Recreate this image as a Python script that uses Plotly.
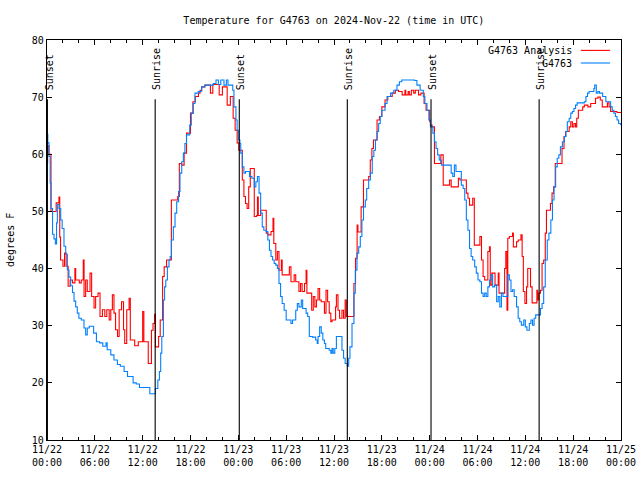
import pandas as pd
import plotly.graph_objects as go

# ---- data (hours after 2024-11-22 00:00 UTC, degrees F) ----
obs_hours = [0.0,0.1,0.25,0.4,0.5,0.7,0.88,1.05,1.2,1.3,1.5,1.72,1.9,2.13,2.35,2.55,2.75,2.97,3.2,3.39,3.6,3.8,4.0,4.3,4.64,4.85,5.05,5.3,5.6,5.85,6.2,6.6,7.0,7.4,7.55,8.0,8.4,8.83,9.2,9.67,10.1,10.8,11.2,11.6,12.9,13.6,13.9,14.1,14.26,14.4,14.6,14.75,14.9,15.1,15.3,15.45,15.6,15.85,16.06,16.27,16.5,16.68,16.9,17.1,17.3,17.5,17.9,18.1,18.35,18.56,18.98,19.4,19.8,20.87,21.2,21.5,21.8,22.2,22.5,22.7,23.3,23.45,23.7,23.85,24.0,24.2,24.3,24.5,24.7,24.9,25.4,25.7,26.0,26.2,26.4,26.6,26.8,27.0,27.2,27.5,27.7,27.9,28.1,28.3,28.5,28.7,28.9,29.1,29.3,29.5,29.75,30.0,30.6,30.8,31.2,31.4,31.6,31.9,32.07,32.5,32.7,32.9,33.3,33.7,33.9,34.0,34.2,34.4,34.6,34.8,34.96,35.4,35.6,35.75,35.9,36.1,36.3,36.8,37.0,37.2,37.4,37.67,37.84,38.0,38.26,38.5,38.67,38.88,39.1,39.3,39.5,39.7,39.93,40.1,40.35,40.56,40.8,41.0,41.2,41.4,41.6,41.8,42.0,42.4,42.65,43.1,43.5,43.9,44.2,44.5,46.1,46.4,46.8,47.2,47.4,47.66,47.9,48.1,48.4,48.6,48.8,49.0,49.2,49.5,50.7,50.9,51.1,51.3,51.97,52.2,52.4,52.6,52.8,53.0,53.2,53.4,53.65,53.85,54.06,54.3,54.5,54.7,54.9,55.1,55.3,55.5,55.7,55.9,56.15,56.4,56.6,56.8,57.0,57.2,57.8,58.0,58.2,58.4,58.6,58.9,59.1,59.3,59.5,59.8,60.0,60.2,60.5,60.7,60.9,61.1,61.3,61.9,62.1,62.3,62.5,62.75,62.96,63.2,63.4,63.6,63.8,64.0,64.2,64.4,64.65,64.9,65.1,65.27,65.5,65.7,65.9,66.1,66.3,66.5,67.4,67.6,67.8,68.0,68.6,68.7,68.9,69.1,69.3,69.7,70.1,70.7,70.9,71.1,71.3,71.5,71.7,71.96]
obs_temp = [63.5,62.0,59.6,55.0,50.5,46.0,45.2,44.3,48.0,51.2,50.5,48.5,47.0,43.9,42.5,39.8,38.5,37.0,35.8,34.3,33.3,32.2,31.3,31.0,29.6,28.4,29.6,29.9,29.9,28.7,27.2,27.0,26.4,27.0,25.8,24.9,24.0,23.2,22.9,22.0,21.1,20.0,19.8,19.2,18.1,19.0,20.5,22.0,25.2,28.1,34.5,36.8,38.0,40.3,41.5,42.1,45.0,47.3,49.7,51.7,53.5,56.7,58.7,60.2,61.9,63.4,65.1,67.2,68.9,70.7,71.0,71.8,72.1,72.4,73.0,72.2,73.0,72.1,73.0,72.1,71.2,68.3,66.0,64.2,62.5,61.9,60.2,57.8,56.7,57.0,56.1,55.8,54.3,55.2,56.1,53.2,49.7,47.3,46.7,46.5,45.0,43.2,42.1,41.5,40.9,40.6,40.0,37.4,35.1,33.9,32.7,31.0,30.4,31.0,32.7,33.9,33.3,34.5,33.0,32.2,31.6,28.1,28.0,27.5,26.9,28.1,29.8,28.7,27.5,26.9,26.0,25.7,25.2,26.0,25.2,26.0,28.1,28.1,25.7,24.3,23.4,22.9,24.3,26.3,30.4,35.7,39.7,42.7,43.8,45.6,48.5,50.8,52.0,54.0,55.5,56.7,59.6,60.7,62.5,64.0,65.4,66.6,67.7,68.9,70.1,70.7,71.2,72.1,72.7,73.0,72.9,72.1,71.2,70.1,68.9,67.7,66.0,64.8,63.7,62.2,61.0,59.9,59.0,58.1,56.7,56.1,58.1,57.0,54.6,54.0,52.0,48.5,46.7,43.5,42.1,41.5,40.3,39.2,38.0,37.7,35.7,35.1,35.7,35.1,36.8,38.0,38.9,36.8,37.1,34.2,35.1,33.3,35.7,35.1,38.9,38.0,36.0,36.3,35.1,33.3,31.3,30.7,30.1,31.0,29.8,29.2,30.4,31.0,30.1,31.3,31.9,33.0,33.9,36.8,41.5,45.0,46.2,48.5,52.0,54.3,57.8,59.3,59.9,61.3,62.2,63.1,64.0,65.7,66.3,67.2,67.5,68.0,68.6,69.0,69.2,70.1,70.7,71.0,71.5,72.1,70.7,71.0,70.7,70.1,69.2,68.3,67.7,67.2,66.6,66.0,65.4,65.1]

ana_hours = [0.0,0.08,0.25,0.5,1.15,1.5,1.6,1.7,2.0,2.2,2.4,2.65,2.9,3.2,3.5,3.6,4.05,4.3,4.55,4.65,4.85,5.05,5.4,5.6,5.9,6.1,6.4,6.65,6.95,7.25,7.5,7.8,8.0,8.2,8.4,8.6,8.85,9.05,9.35,9.6,9.75,10.0,10.3,10.45,11.0,11.45,12.0,12.15,12.7,13.1,13.3,13.5,13.6,14.0,14.2,14.5,14.7,15.0,15.6,16.4,16.6,16.9,17.2,17.5,18.0,18.3,18.6,19.0,19.2,19.4,19.8,20.5,20.8,21.6,22.0,22.6,23.0,23.35,23.6,23.85,24.05,24.5,24.7,24.9,25.1,25.3,25.5,26.0,26.3,26.4,26.5,26.8,27.5,27.7,28.1,28.35,28.45,28.7,28.9,29.1,29.4,29.5,30.4,30.6,31.0,31.2,31.6,31.8,32.0,32.3,32.5,32.6,33.2,33.4,33.6,33.8,34.0,34.2,34.4,34.8,35.0,35.2,35.4,35.6,35.75,36.2,36.3,36.5,36.7,37.0,37.2,37.4,37.55,38.5,38.7,38.9,39.0,39.4,39.7,40.35,40.55,40.75,40.95,41.4,41.7,42.0,42.4,42.75,43.3,43.7,44.1,44.55,44.9,45.0,45.3,45.45,45.7,46.0,46.2,46.6,46.9,47.3,47.55,48.0,48.1,48.3,48.6,49.4,49.7,50.5,50.7,51.6,51.8,52.6,52.8,53.0,53.4,53.6,54.3,54.5,54.7,54.9,55.3,55.5,55.6,55.8,56.2,56.6,56.7,57.4,57.55,57.7,57.8,58.0,58.4,58.5,58.9,59.1,59.45,59.6,59.75,59.95,60.15,60.3,60.65,60.85,61.45,61.55,61.7,61.9,62.1,62.3,62.5,62.65,63.15,63.35,63.55,63.75,64.6,64.85,65.05,65.5,65.7,65.9,66.1,66.3,66.45,66.65,67.2,67.4,67.85,68.2,68.8,69.1,69.4,69.65,70.3,70.5,70.7,71.1,71.5,72.0]
ana_temp = [58.5,61.5,60.0,50.0,51.5,52.5,45.5,41.5,40.4,42.7,40.4,36.9,38.0,37.5,40.0,38.0,37.5,38.0,41.5,35.1,38.0,36.0,39.2,35.1,33.1,35.1,35.7,31.6,32.8,31.6,32.8,31.0,32.8,35.4,32.2,29.3,28.1,32.8,34.2,29.3,26.9,32.8,34.8,27.5,26.5,27.2,32.5,27.2,23.4,29.2,30.4,32.0,26.3,28.1,31.0,38.6,40.3,41.5,52.0,52.6,58.4,58.1,60.2,63.7,67.2,69.2,70.1,70.7,71.2,71.8,72.1,70.7,72.2,70.4,71.8,68.6,70.1,66.3,64.2,62.0,60.7,55.5,52.6,51.4,50.5,54.3,57.5,49.1,49.3,52.5,49.3,50.2,46.2,45.9,46.5,48.8,44.4,41.5,43.0,39.7,41.5,38.9,40.3,37.7,38.9,37.7,36.0,37.4,36.0,37.4,39.7,35.7,32.7,35.1,33.3,34.5,36.5,34.5,34.2,32.2,36.2,34.2,32.2,30.7,31.0,33.3,35.4,32.7,31.3,32.7,31.3,34.5,31.6,37.4,41.8,47.6,46.4,50.8,55.5,56.1,59.0,61.0,62.5,66.0,66.6,68.3,69.5,70.1,70.7,71.2,71.0,70.4,71.2,70.4,71.0,70.4,71.2,70.7,71.2,70.4,70.7,68.9,67.7,65.7,65.1,64.8,58.4,59.9,54.6,55.5,54.3,55.8,55.5,53.2,52.3,51.1,52.3,44.1,45.6,41.5,38.6,38.0,43.0,43.8,37.1,39.2,37.1,39.2,35.7,40.0,43.0,32.7,45.3,45.6,46.2,43.8,44.7,45.0,45.9,42.1,36.0,33.9,36.8,40.0,36.8,34.0,36.2,34.5,35.7,36.2,40.9,41.5,46.2,50.2,51.4,53.2,54.3,58.4,61.0,63.1,64.0,64.8,65.7,64.8,65.4,64.8,66.3,67.7,68.3,68.6,68.3,68.9,69.8,70.0,69.5,68.3,69.0,68.3,67.5,67.5,67.3,67.3]

sun_hours = [0.05, 13.57, 24.12, 37.67, 48.17, 61.73]
sun_labels = ["Sunset", "Sunrise", "Sunset", "Sunrise", "Sunset", "Sunrise"]

series_names = ["G4763 Analysis", "G4763"]
series_colors = ["#ff0000", "#0080ff"]

start = pd.Timestamp("2024-11-22 00:00")
def to_time(h):
    return [start + pd.Timedelta(hours=v) for v in h]

FONT = "DejaVu Sans Mono"
LW = 1.1

fig = go.Figure()
fig.add_trace(go.Scatter(x=to_time(ana_hours), y=ana_temp, mode="lines",
                         line=dict(color=series_colors[0], width=LW, shape="hv"),
                         name=series_names[0], showlegend=False))
fig.add_trace(go.Scatter(x=to_time(obs_hours), y=obs_temp, mode="lines",
                         line=dict(color=series_colors[1], width=LW, shape="hv"),
                         name=series_names[1], showlegend=False))

shapes = []
annotations = []
for h, lab in zip(to_time(sun_hours), sun_labels):
    shapes.append(dict(type="line", xref="x", yref="paper", x0=h, x1=h, y0=0, y1=0.852,
                       line=dict(color="black", width=1.1)))
    annotations.append(dict(x=h, xref="x", y=0.869, yref="paper", text=lab,
                            textangle=-90, showarrow=False, xanchor="center", yanchor="bottom",
                            xshift=1.5, font=dict(family=FONT, size=10, color="black")))

# manual legend: text on left, line sample on right
leg_y = [0.974, 0.9425]
for name, col, yy in zip(series_names, series_colors, leg_y):
    annotations.append(dict(x=0.918, xref="paper", y=yy, yref="paper", text=name,
                            showarrow=False, xanchor="right", yanchor="middle",
                            font=dict(family=FONT, size=10, color="black")))
    shapes.append(dict(type="line", xref="paper", yref="paper", x0=0.930, x1=0.981,
                       y0=yy, y1=yy, line=dict(color=col, width=LW)))

annotations.append(dict(x=-0.0645, xref="paper", y=0.5, yref="paper", text="degrees F",
                        textangle=-90, showarrow=False, xanchor="center", yanchor="middle",
                        font=dict(family=FONT, size=10, color="black")))

fig.update_layout(
    width=640, height=480,
    margin=dict(l=47, r=19, t=40, b=40, autoexpand=False),
    paper_bgcolor="white", plot_bgcolor="white",
    font=dict(family=FONT, size=10, color="black"),
    title=dict(text="Temperature for G4763 on 2024-Nov-22 (time in UTC)",
               x=0.5217, xanchor="center", y=1 - 20.3 / 480, yanchor="middle",
               font=dict(family=FONT, size=10, color="black")),
    shapes=shapes, annotations=annotations,
    showlegend=False,
)
fig.update_xaxes(
    type="date", automargin=False,
    range=[start, start + pd.Timedelta(hours=72)],
    tick0=start, dtick=6 * 3600 * 1000,
    tickformat="%m/%d<br>%H:%M",
    ticks="inside", ticklen=5, tickcolor="black", tickwidth=1,
    minor=dict(dtick=2 * 3600 * 1000, ticks="inside", ticklen=3, tickcolor="black", tickwidth=1, showgrid=False),
    showline=True, linecolor="black", linewidth=1.2, mirror="ticks",
    showgrid=False, zeroline=False,
    tickfont=dict(family=FONT, size=10, color="black"),
)
fig.update_yaxes(
    automargin=False,
    range=[10, 80], dtick=10, tick0=10,
    ticks="inside", ticklen=5, tickcolor="black", tickwidth=1,
    showline=True, linecolor="black", linewidth=1.2, mirror="ticks",
    showgrid=False, zeroline=False,
    tickfont=dict(family=FONT, size=10, color="black"),
)

fig.write_html("out.html")
